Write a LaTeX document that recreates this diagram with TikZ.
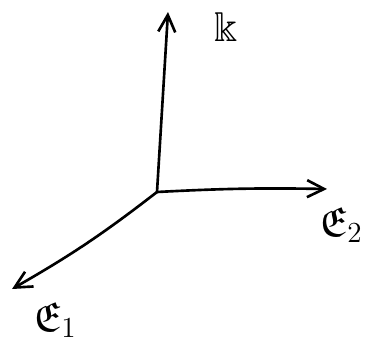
\documentclass[tikz,border=0pt]{standalone}
\usepackage{amssymb}
\usetikzlibrary{arrows.meta}

\begin{document}
\begin{tikzpicture}[x=0.02cm,y=-0.02cm,>={Straight Barb[length=3.4mm,width=3.4mm]},
  axis/.style={->,line width=1.5pt,line cap=round},
  lbl/.style={font=\huge,scale=1.15,inner sep=0pt}]
\useasboundingbox (0,0) rectangle (376,346);
\coordinate (o) at (157,192);
\coordinate (up) at (168,12);
\coordinate (e2) at (327,189);
\coordinate (e1) at (12,289);
\node[lbl] (k) at (226,27) {$\Bbbk$};
\node[lbl] (lab2) at (341,225) {$\mathfrak{E}_{2}$};
\node[lbl] (lab1) at (55,320) {$\mathfrak{E}_{1}$};
\draw[axis] (o) -- (up);
\draw[axis] (o) to[bend left=2] (e2);
\draw[axis] (o) to[bend left=4] (e1);
\end{tikzpicture}
\end{document}
